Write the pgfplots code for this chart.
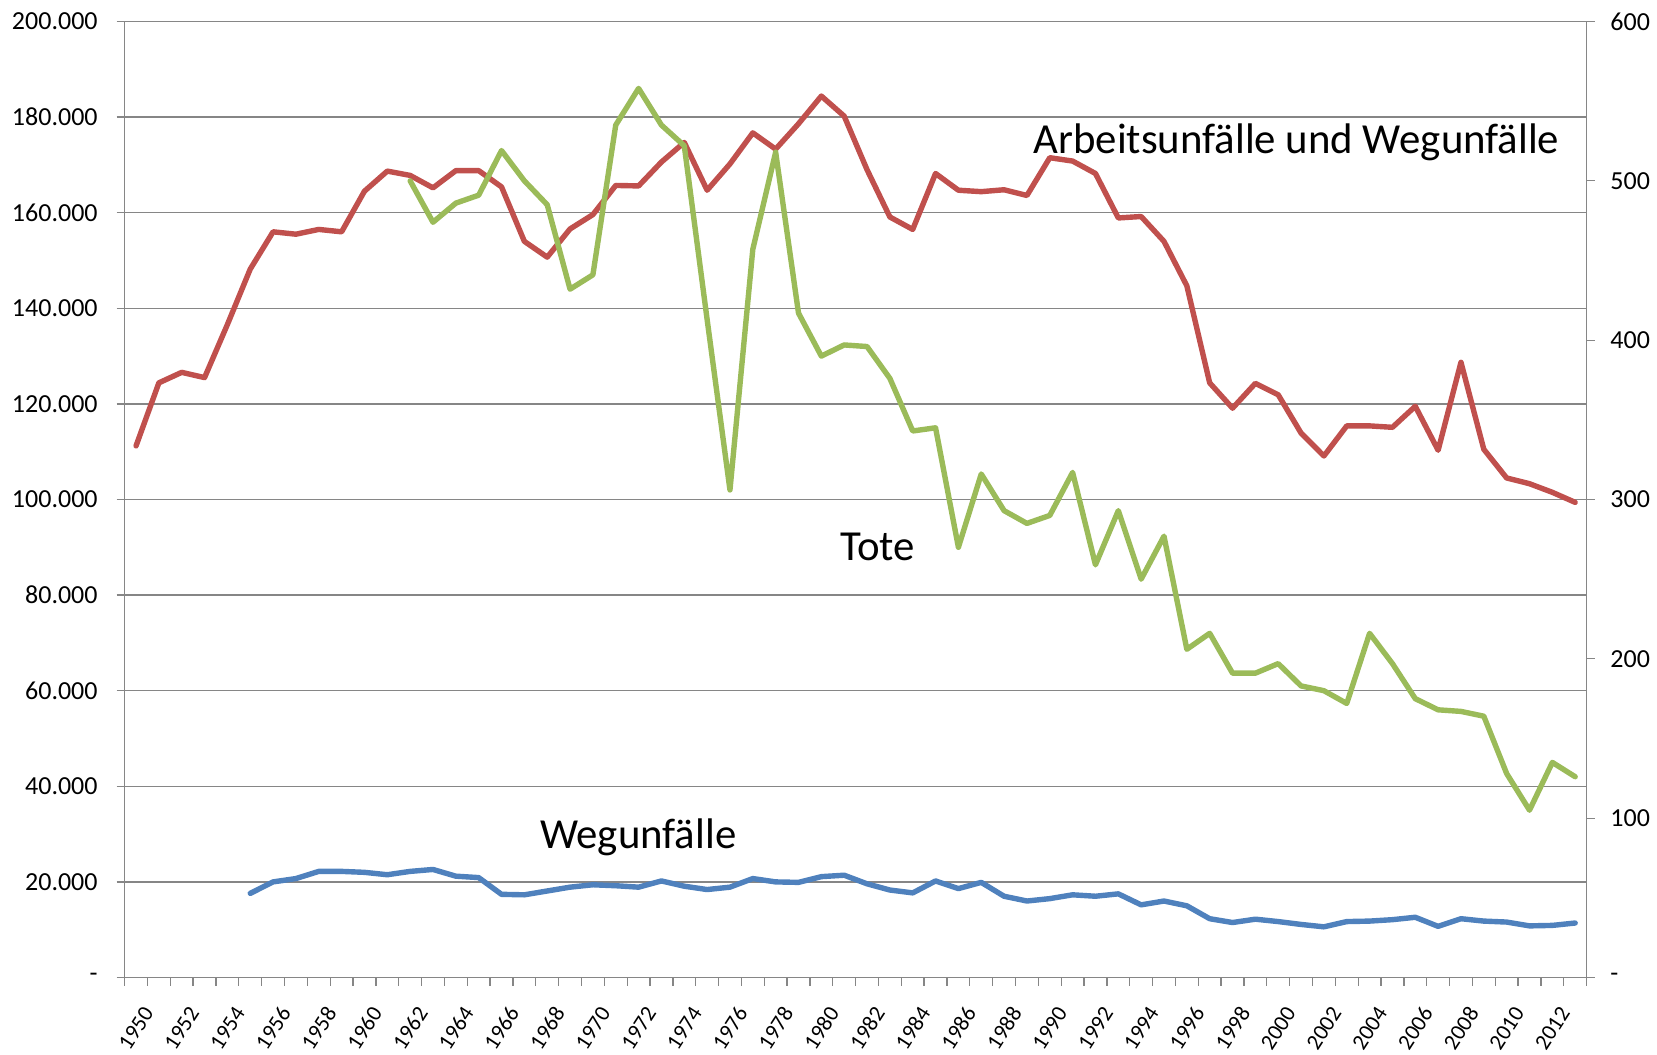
\documentclass[border=0pt]{standalone}
\usepackage{fontspec}
\setmainfont{Carlito}
\usepackage{pgfplots}
\pgfplotsset{compat=1.18}
\definecolor{axgray}{RGB}{134,134,134}
\definecolor{cred}{RGB}{192,80,77}
\definecolor{cgreen}{RGB}{155,187,89}
\definecolor{cblue}{RGB}{79,129,189}

\pgfplotstableread{
year val
1950 111200
1951 124400
1952 126600
1953 125500
1954 136600
1955 148200
1956 156000
1957 155500
1958 156500
1959 156000
1960 164500
1961 168700
1962 167800
1963 165200
1964 168800
1965 168800
1966 165400
1967 154000
1968 150700
1969 156600
1970 159600
1971 165700
1972 165600
1973 170600
1974 174700
1975 164700
1976 170200
1977 176700
1978 173300
1979 178600
1980 184400
1981 180200
1982 169000
1983 159100
1984 156500
1985 168200
1986 164700
1987 164400
1988 164800
1989 163600
1990 171500
1991 170800
1992 168200
1993 158900
1994 159200
1995 154000
1996 144700
1997 124400
1998 119100
1999 124300
2000 121900
2001 113900
2002 109100
2003 115400
2004 115400
2005 115100
2006 119500
2007 110300
2008 128700
2009 110500
2010 104500
2011 103300
2012 101500
2013 99400
}\arbeit

\pgfplotstableread{
year val
1955 17600
1956 20000
1957 20700
1958 22200
1959 22200
1960 22000
1961 21500
1962 22200
1963 22600
1964 21200
1965 20900
1966 17400
1967 17300
1968 18100
1969 18900
1970 19400
1971 19200
1972 18900
1973 20200
1974 19100
1975 18400
1976 18900
1977 20700
1978 20000
1979 19900
1980 21100
1981 21400
1982 19600
1983 18300
1984 17700
1985 20200
1986 18600
1987 19900
1988 17000
1989 16000
1990 16500
1991 17300
1992 17000
1993 17500
1994 15200
1995 16000
1996 15000
1997 12300
1998 11500
1999 12200
2000 11700
2001 11100
2002 10600
2003 11700
2004 11800
2005 12100
2006 12600
2007 10700
2008 12300
2009 11800
2010 11600
2011 10800
2012 10900
2013 11400
}\weg

\pgfplotstableread{
year val
1962 500
1963 474
1964 486
1965 491
1966 519
1967 500
1968 485
1969 432
1970 441
1971 535
1972 558
1973 535
1974 522
1975 413
1976 306
1977 457
1978 518
1979 417
1980 390
1981 397
1982 396
1983 376
1984 343
1985 345
1986 270
1987 316
1988 293
1989 285
1990 290
1991 317
1992 259
1993 293
1994 250
1995 277
1996 206
1997 216
1998 191
1999 191
2000 197
2001 183
2002 180
2003 172
2004 216
2005 197
2006 175
2007 168
2008 167
2009 164
2010 128
2011 105
2012 135
2013 126
}\tote

\pgfplotsset{
  base/.style={
    scale only axis, width=731pt, height=478pt,
    xmin=1949.5, xmax=2013.5,
    tick align=outside, major tick length=4pt,
    tick style={draw=axgray, line width=0.65pt},
    axis line style={draw=axgray, line width=0.65pt},
    ticklabel style={font=\fontsize{13}{15}\selectfont},
  },
  ser/.style={line width=2.7pt, line join=round, line cap=round},
}

\begin{document}
\begin{tikzpicture}
\begin{axis}[base, name=ax,
  ymin=0, ymax=200000,
  ytick={0,20000,40000,60000,80000,100000,120000,140000,160000,180000,200000},
  yticklabels={-,20.000,40.000,60.000,80.000,100.000,120.000,140.000,160.000,180.000,200.000},
  ymajorgrids, major grid style={draw=axgray, line width=0.65pt},
  xtick={1949.5,1950.5,...,2013.5},
  xticklabels={1950,,1952,,1954,,1956,,1958,,1960,,1962,,1964,,1966,,1968,,1970,,1972,,1974,,1976,,1978,,1980,,1982,,1984,,1986,,1988,,1990,,1992,,1994,,1996,,1998,,2000,,2002,,2004,,2006,,2008,,2010,,2012,,},
  tick pos=left,
  xticklabel style={font=\fontsize{11.2}{13}\selectfont, xshift=12pt, yshift=-11.65pt, rotate=57, anchor=east, inner sep=0pt},
  yticklabel style={xshift=-9.3pt, anchor=east, inner sep=0pt},
]
\addplot[cred, ser] table[x=year, y=val] {\arbeit};
\addplot[cblue, ser] table[x=year, y=val] {\weg};
\node[anchor=base west, inner sep=0pt, font=\fontsize{21.4}{25}\selectfont] at (axis cs:1989.27,172280) {Arbeitsunfälle und Wegunfälle};
\node[anchor=base west, inner sep=0pt, font=\fontsize{21.4}{25}\selectfont] at (axis cs:1980.8,87238) {Tote};
\node[anchor=base west, inner sep=0pt, font=\fontsize{21.4}{25}\selectfont] at (axis cs:1967.67,26987) {Wegunfälle};
\end{axis}
\begin{axis}[base,
  ymin=0, ymax=600,
  hide x axis,
  ytick={0,100,200,300,400,500,600},
  yticklabels={-,100,200,300,400,500,600},
  ytick pos=right, yticklabel pos=right,
  yticklabel style={xshift=7.7pt, anchor=west, inner sep=0pt},
]
\addplot[cgreen, ser] table[x=year, y=val] {\tote};
\end{axis}
\pgfresetboundingbox
\path ([shift={(-62.3pt,-38.25pt)}]ax.south west) rectangle ([shift={(35.2pt,10.75pt)}]ax.north east);
\end{tikzpicture}
\end{document}
